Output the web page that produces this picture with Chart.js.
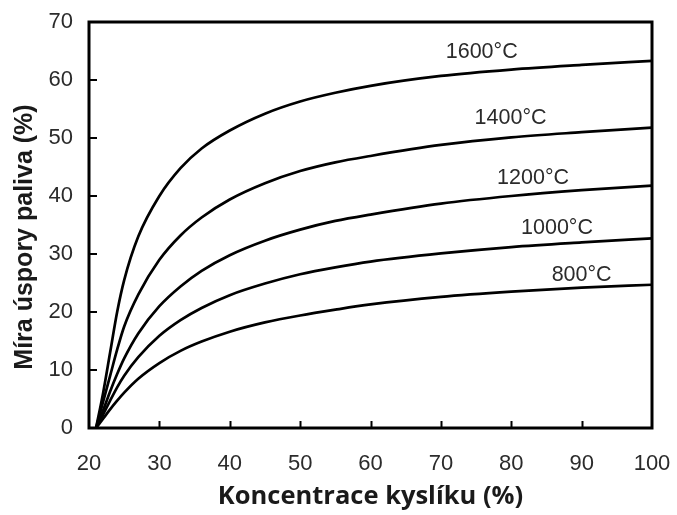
<!DOCTYPE html>
<html>
<head>
<meta charset="utf-8">
<script src="https://cdn.jsdelivr.net/npm/chart.js@4.4.1/dist/chart.umd.min.js"></script>
<style>
  html, body { margin: 0; padding: 0; background: #fff; }
  #wrap { width: 677px; height: 515px; }
</style>
</head>
<body>
<div id="wrap"><canvas id="fuelChart" width="677" height="515"></canvas></div>
<script>
// oxygen concentration in the combustion air (%)
const oxygen = [21, 22, 23, 24, 25, 27, 30, 33, 36, 40, 45, 50, 55, 60, 70, 80, 90, 100];

// fuel saving (%) for each flue gas temperature
const saving1600 = [0, 6, 13, 20, 25.5, 33, 40, 44.8, 48.2, 51.3, 54.2, 56.3, 57.8, 59, 60.7, 61.8, 62.6, 63.3];
const saving1400 = [0, 4.5, 9, 13.5, 17.5, 23, 29, 33.2, 36.3, 39.4, 42.2, 44.3, 45.8, 46.9, 48.8, 50.1, 51, 51.8];
const saving1200 = [0, 3, 6.3, 9.3, 12, 16.3, 21, 24.4, 27.1, 29.8, 32.3, 34.2, 35.7, 36.8, 38.7, 40, 41, 41.8];
const saving1000 = [0, 2.3, 4.7, 7, 9, 12.2, 15.9, 18.6, 20.7, 22.9, 24.9, 26.5, 27.7, 28.7, 30.1, 31.2, 32, 32.7];
const saving800 = [0, 1.6, 3.2, 4.7, 6.1, 8.5, 11.2, 13.3, 14.9, 16.6, 18.2, 19.4, 20.4, 21.3, 22.6, 23.5, 24.2, 24.7];

const seriesNames = ['1600°C', '1400°C', '1200°C', '1000°C', '800°C'];
const seriesValues = [saving1600, saving1400, saving1200, saving1000, saving800];

// where the curve labels sit, in data units
const labelX = [75.8, 79.9, 83.1, 86.5, 90.0];
const labelY = [64.9, 53.4, 43.1, 34.5, 26.4];

const xTicks = [20, 30, 40, 50, 60, 70, 80, 90, 100];
const yTicks = [0, 10, 20, 30, 40, 50, 60, 70];

const textColor = '#2b2b2b';

const datasets = seriesNames.map(function (name, i) {
  return {
    label: name,
    data: oxygen.map(function (x, j) { return { x: x, y: seriesValues[i][j] }; }),
    borderColor: '#000',
    borderWidth: 2.7,
    pointRadius: 0,
    fill: false,
    cubicInterpolationMode: 'monotone'
  };
});

// frame, inward ticks, curve labels and axis titles
const decorations = {
  id: 'decorations',
  afterDraw(chart) {
    const ctx = chart.ctx;
    const a = chart.chartArea;
    const x = chart.scales.x;
    const y = chart.scales.y;
    ctx.save();
    ctx.strokeStyle = '#000';
    ctx.lineWidth = 2;
    ctx.beginPath();
    xTicks.slice(1, -1).forEach(function (v) {
      const px = Math.round(x.getPixelForValue(v)) + 0.5;
      ctx.moveTo(px, a.bottom);
      ctx.lineTo(px, a.bottom - 7);
    });
    yTicks.slice(1, -1).forEach(function (v) {
      const py = Math.round(y.getPixelForValue(v));
      ctx.moveTo(a.left, py);
      ctx.lineTo(a.left + 8, py);
    });
    ctx.stroke();

    ctx.lineWidth = 3;
    ctx.strokeRect(a.left, a.top, a.right - a.left, a.bottom - a.top);

    ctx.fillStyle = textColor;
    ctx.font = '21.5px "Liberation Sans", Arial, sans-serif';
    ctx.textAlign = 'center';
    ctx.textBaseline = 'middle';
    seriesNames.forEach(function (name, i) {
      ctx.fillText(name, x.getPixelForValue(labelX[i]), y.getPixelForValue(labelY[i]));
    });

    ctx.fillStyle = '#1a1a1a';
    ctx.font = 'bold 25.5px "Open Sans", sans-serif';
    ctx.fillText('Koncentrace kyslíku (%)', (a.left + a.right) / 2, 497);

    ctx.translate(25, 237);
    ctx.rotate(-Math.PI / 2);
    ctx.font = 'bold 25px "Liberation Sans", Arial, sans-serif';
    ctx.fillText('Míra úspory paliva (%)', 0, 0);
    ctx.restore();
  }
};

const ctx = document.getElementById('fuelChart').getContext('2d');

new Chart(ctx, {
  type: 'line',
  data: { datasets: datasets },
  options: {
    responsive: false,
    animation: false,
    layout: { padding: { left: 0, right: 25, top: 22, bottom: 0 } },
    plugins: {
      legend: { display: false },
      tooltip: { enabled: false }
    },
    scales: {
      x: {
        type: 'linear',
        min: 20,
        max: 100,
        afterBuildTicks: function (s) { s.ticks = xTicks.map(function (v) { return { value: v }; }); },
        afterFit: function (s) { s.height = 87; s.paddingLeft = 0; s.paddingRight = 0; },
        grid: { display: false, drawTicks: false },
        border: { display: false },
        ticks: {
          padding: 23,
          color: textColor,
          font: { family: '"Liberation Sans", Arial, sans-serif', size: 22 }
        }
      },
      y: {
        min: 0,
        max: 70,
        afterBuildTicks: function (s) { s.ticks = yTicks.map(function (v) { return { value: v }; }); },
        afterFit: function (s) { s.width = 89; s.paddingTop = 0; s.paddingBottom = 0; },
        grid: { display: false, drawTicks: false },
        border: { display: false },
        ticks: {
          padding: 16,
          color: textColor,
          font: { family: '"Liberation Sans", Arial, sans-serif', size: 22 }
        }
      }
    }
  },
  plugins: [decorations]
});
</script>
</body>
</html>
